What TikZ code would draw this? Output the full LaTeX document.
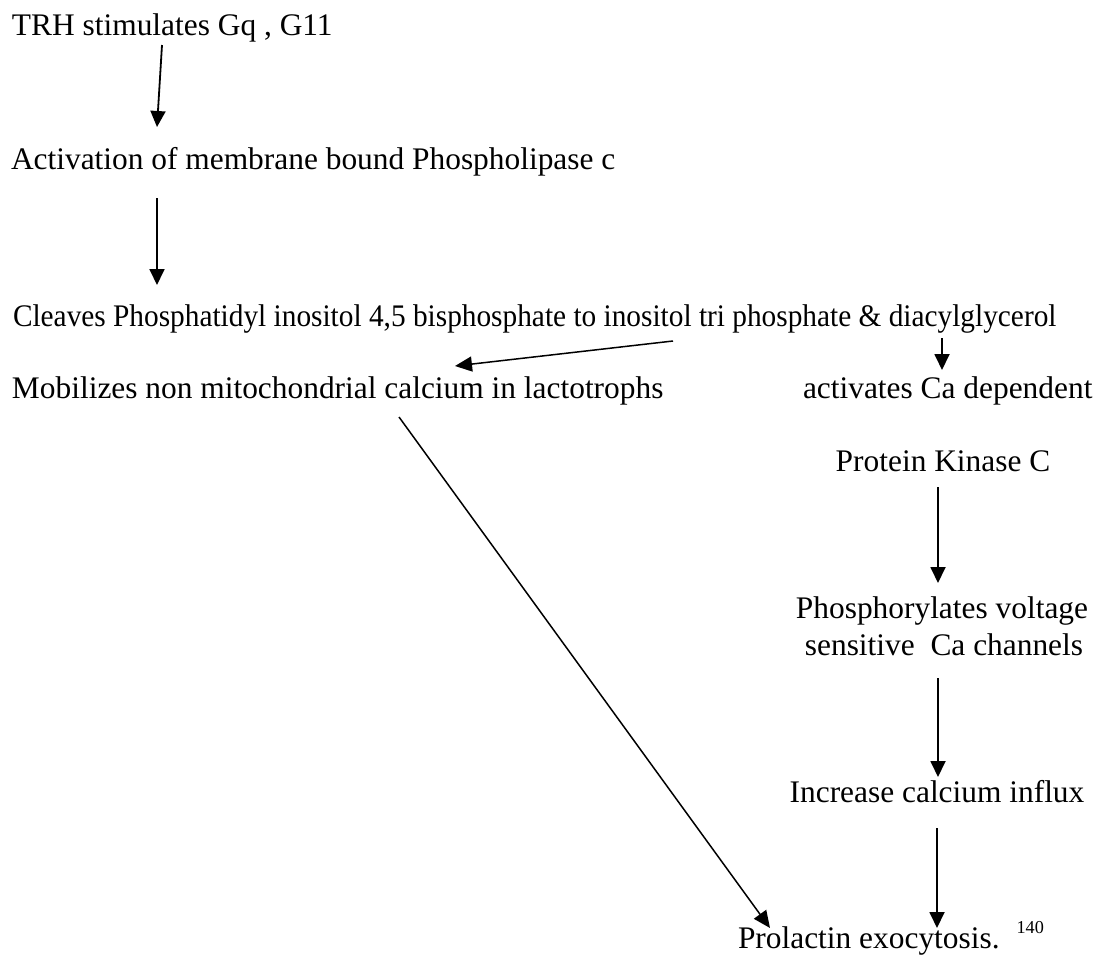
\documentclass[tikz,border=0pt]{standalone}
\usepackage{fontspec}
\setmainfont{Liberation Serif}
\usepackage{graphicx}
\usetikzlibrary{arrows.meta,calc}
\tikzset{
  txt/.style={inner sep=0pt, outer sep=0pt, font=\fontsize{31.4}{37}\selectfont},
  arr/.style={line width=1.8pt, -{Triangle[length=16pt,width=15pt]}},
  thinarr/.style={line width=1.5pt, -{Triangle[length=17pt,width=15pt]}},
}
\begin{document}
\begin{tikzpicture}[x=1pt,y=-1pt]
\useasboundingbox (0,0) rectangle (1109,956);
\node[txt, anchor=base west] (trh) at (12,35) {TRH stimulates Gq , G11};
\node[txt, anchor=base west] (act) at (11,169) {Activation of membrane bound Phospholipase c};
\node[txt, anchor=base west] (clv) at (13,326) {\scalebox{0.934}[1]{Cleaves Phosphatidyl inositol 4,5 bisphosphate to inositol tri phosphate \& diacylglycerol}};
\node[txt, anchor=base west] (mob) at (12,398) {Mobilizes non mitochondrial calcium in lactotrophs};
\node[txt, anchor=base west] (acti) at (803,398) {activates Ca dependent};
\node[txt, anchor=base] (pkc) at (943,471) {Protein Kinase C};
\node[txt, anchor=base] (pho) at (942,618) {Phosphorylates voltage};
\node[txt, anchor=base] (sens) at (944,655) {sensitive\ \ Ca channels};
\node[txt, anchor=base] (inc) at (937,802) {Increase calcium influx};
\node[txt, anchor=base west] (prl) at (738,948) {Prolactin exocytosis.\hspace{17pt}\raisebox{15pt}{\fontsize{18.2}{20}\selectfont 140}};

\draw[arr] ($(trh.base west)+(150,10)$) -- ($(act.base west)+(146,-42)$);
\draw[arr] ($(act.base west)+(146,29)$) -- ($(clv.base west)+(144,-41)$);
\draw[thinarr] ($(clv.base west)+(660,15)$) -- ($(mob.base west)+(443,-32)$);
\draw[arr] ($(clv.base west)+(929,12)$) -- ($(acti.base west)+(139,-28)$);
\draw[thinarr] ($(mob.base west)+(387,19)$) -- ($(prl.base west)+(32,-20)$);
\draw[arr] ($(pkc.base)+(-5,16)$) -- ($(pho.base)+(-4,-35)$);
\draw[arr] ($(sens.base)+(-6,23)$) -- ($(inc.base)+(1,-25)$);
\draw[arr] ($(inc.base)+(0,26)$) -- ($(prl.base west)+(199,-20)$);
\end{tikzpicture}
\end{document}
